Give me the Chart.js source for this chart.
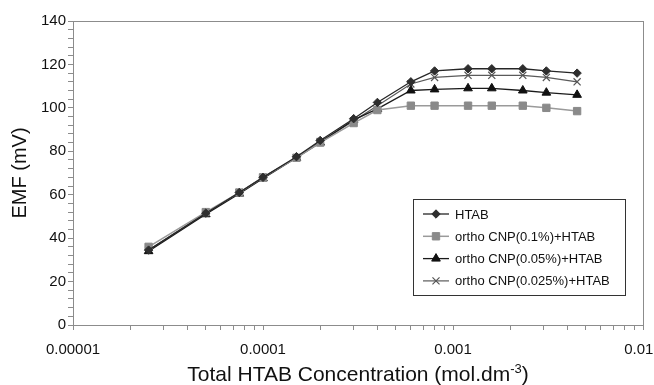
<!DOCTYPE html>
<html>
<head>
<meta charset="utf-8">
<script src="https://cdn.jsdelivr.net/npm/chart.js@4/dist/chart.umd.min.js"></script>
<style>
  html, body { margin: 0; padding: 0; background: #fff; }
  #wrap { width: 654px; height: 385px; position: relative; }
</style>
</head>
<body>
<div id="wrap"><canvas id="emf-chart"></canvas></div>
<script>
// Total HTAB concentration (mol.dm-3)
const concentrations = [0.000025, 0.00005, 0.000075, 0.0001, 0.00015, 0.0002, 0.0003, 0.0004, 0.0006, 0.0008, 0.0012, 0.0016, 0.00233, 0.0031, 0.0045];

// EMF (mV) per series
const htab      = [34.5, 51.5, 61, 68, 77.5, 85, 95, 102.5, 112, 117, 118, 118, 118, 117, 116];
const cnp01     = [36, 52, 61, 68, 77, 84, 93, 99, 101, 101, 101, 101, 101, 100, 98.5];
const cnp005    = [34, 51, 60.5, 67.5, 77, 84, 94.5, 99.5, 108, 108.5, 109, 109, 108, 107, 106];
const cnp0025   = [34.5, 51.5, 61, 68, 77, 84.5, 94, 101, 111, 114, 115, 115, 115, 114, 112];

const seriesLabels = ['HTAB', 'ortho CNP(0.1%)+HTAB', 'ortho CNP(0.05%)+HTAB', 'ortho CNP(0.025%)+HTAB'];

const xMajorTicks = [0.00001, 0.0001, 0.001, 0.01];
const yMajorTicks = [0, 20, 40, 60, 80, 100, 120, 140];

const FONT = '"Liberation Sans", Arial, sans-serif';

function toPoints(values) {
    return values.map((v, i) => ({ x: concentrations[i], y: v }));
}

// log axis ticks: 1..9 in each decade, only powers of ten get a label
function buildLogTicks() {
    const ticks = [];
    for (let e = -5; e <= -2; e++) {
        for (let m = 1; m <= 9; m++) {
            if (e === -2 && m > 1) break;
            ticks.push({ value: Number((m * Math.pow(10, e)).toPrecision(3)) });
        }
    }
    return ticks;
}

// legend marker with the dataset's own point style and colours
function drawLegendMarker(ctx, ds, x, y) {
    ctx.save();
    ctx.fillStyle = ds.pointBackgroundColor;
    ctx.strokeStyle = ds.pointBorderColor;
    ctx.lineWidth = ds.pointBorderWidth;
    Chart.helpers.drawPoint(ctx, {
        pointStyle: ds.pointStyle,
        radius: ds.pointRadius,
        rotation: 0,
        borderWidth: ds.pointBorderWidth
    }, x, y);
    ctx.restore();
}

// draws the grey frame, the x title with superscript and the boxed legend
const framePlugin = {
    id: 'frame',
    afterDraw(chart) {
        const ctx = chart.ctx;
        const a = chart.chartArea;
        ctx.save();
        ctx.strokeStyle = '#8c8c8c';
        ctx.lineWidth = 1;
        ctx.strokeRect(Math.round(a.left) + 0.5, Math.round(a.top) + 0.5,
            Math.round(a.right - a.left), Math.round(a.bottom - a.top));

        // x axis title
        const main = 'Total HTAB Concentration (mol.dm';
        const sup = '-3';
        ctx.fillStyle = '#111';
        ctx.textBaseline = 'alphabetic';
        ctx.font = '21px ' + FONT;
        const w1 = ctx.measureText(main).width;
        const w3 = ctx.measureText(')').width;
        ctx.font = '13px ' + FONT;
        const w2 = ctx.measureText(sup).width;
        let x = (a.left + a.right) / 2 - (w1 + w2 + w3) / 2;
        const base = 381;
        ctx.textAlign = 'left';
        ctx.font = '21px ' + FONT;
        ctx.fillText(main, x, base);
        x += w1;
        ctx.font = '13px ' + FONT;
        ctx.fillText(sup, x, base - 8);
        x += w2;
        ctx.font = '21px ' + FONT;
        ctx.fillText(')', x, base);

        // legend
        const box = { x: 413, y: 199, w: 212, h: 96 };
        ctx.fillStyle = '#fff';
        ctx.fillRect(box.x, box.y, box.w, box.h);
        ctx.strokeStyle = '#333';
        ctx.lineWidth = 1;
        ctx.strokeRect(box.x + 0.5, box.y + 0.5, box.w, box.h);
        ctx.font = '13px ' + FONT;
        ctx.textBaseline = 'middle';
        chart.data.datasets.forEach((ds, i) => {
            const cy = 214 + i * 22.3;
            ctx.strokeStyle = ds.borderColor;
            ctx.lineWidth = ds.borderWidth;
            ctx.beginPath();
            ctx.moveTo(423, cy);
            ctx.lineTo(449, cy);
            ctx.stroke();
            drawLegendMarker(ctx, ds, 436, cy);
            ctx.fillStyle = '#111';
            ctx.textAlign = 'left';
            ctx.fillText(ds.label, 455, cy + 1);
        });
        ctx.restore();
    }
};

const datasets = [
    { label: seriesLabels[0], data: toPoints(htab), borderColor: '#262626', borderWidth: 1.3,
      pointStyle: 'rectRot', pointRadius: 4.2, pointBackgroundColor: '#2e2e2e', pointBorderColor: '#2e2e2e', pointBorderWidth: 1 },
    { label: seriesLabels[1], data: toPoints(cnp01), borderColor: '#9a9a9a', borderWidth: 1.5,
      pointStyle: 'rect', pointRadius: 5.2, pointBackgroundColor: '#8a8a8a', pointBorderColor: '#8a8a8a', pointBorderWidth: 1 },
    { label: seriesLabels[2], data: toPoints(cnp005), borderColor: '#1a1a1a', borderWidth: 1.3,
      pointStyle: 'triangle', pointRadius: 5, pointBackgroundColor: '#111', pointBorderColor: '#111', pointBorderWidth: 1 },
    { label: seriesLabels[3], data: toPoints(cnp0025), borderColor: '#5a5a5a', borderWidth: 1.2,
      pointStyle: 'crossRot', pointRadius: 5, pointBackgroundColor: '#555', pointBorderColor: '#555', pointBorderWidth: 1.2 }
];

new Chart(document.getElementById('emf-chart'), {
    type: 'line',
    data: { datasets: datasets },
    plugins: [framePlugin],
    options: {
        responsive: true,
        maintainAspectRatio: false,
        animation: false,
        layout: { padding: { top: 21, right: 11, left: 0, bottom: 0 } },
        plugins: {
            legend: { display: false },
            tooltip: { enabled: false }
        },
        scales: {
            x: {
                type: 'logarithmic',
                min: 0.00001,
                max: 0.01,
                afterBuildTicks: (scale) => { scale.ticks = buildLogTicks(); },
                afterFit: (scale) => {
                    scale.height = 60;
                    scale.paddingLeft = 0;
                    scale.paddingRight = 0;
                },
                grid: { drawOnChartArea: false, drawTicks: true, tickLength: 5, color: '#8c8c8c' },
                border: { color: '#8c8c8c' },
                ticks: {
                    autoSkip: false,
                    maxRotation: 0,
                    padding: 11,
                    color: '#111',
                    font: { family: FONT, size: 15 },
                    // last label sits against the canvas edge, nudge it left with trailing spaces
                    callback: (value) => {
                        if (!xMajorTicks.includes(value)) return '';
                        return value === 0.01 ? '0.01  ' : String(value);
                    }
                }
            },
            y: {
                min: 0,
                max: 140,
                afterBuildTicks: (scale) => {
                    const t = [];
                    for (let v = 0; v <= 140; v += 4) t.push({ value: v });
                    scale.ticks = t;
                },
                afterFit: (scale) => {
                    scale.width = 73;
                    scale.paddingTop = 0;
                    scale.paddingBottom = 0;
                },
                grid: { drawOnChartArea: false, drawTicks: true, tickLength: 5, color: '#8c8c8c' },
                border: { color: '#8c8c8c' },
                title: {
                    display: true,
                    text: 'EMF (mV)',
                    color: '#111',
                    font: { family: FONT, size: 20 },
                    padding: { top: 8, bottom: 0 }
                },
                ticks: {
                    autoSkip: false,
                    padding: 2,
                    color: '#111',
                    font: { family: FONT, size: 15 },
                    callback: (value) => yMajorTicks.includes(value) ? String(value) : ''
                }
            }
        }
    }
});
</script>
</body>
</html>
